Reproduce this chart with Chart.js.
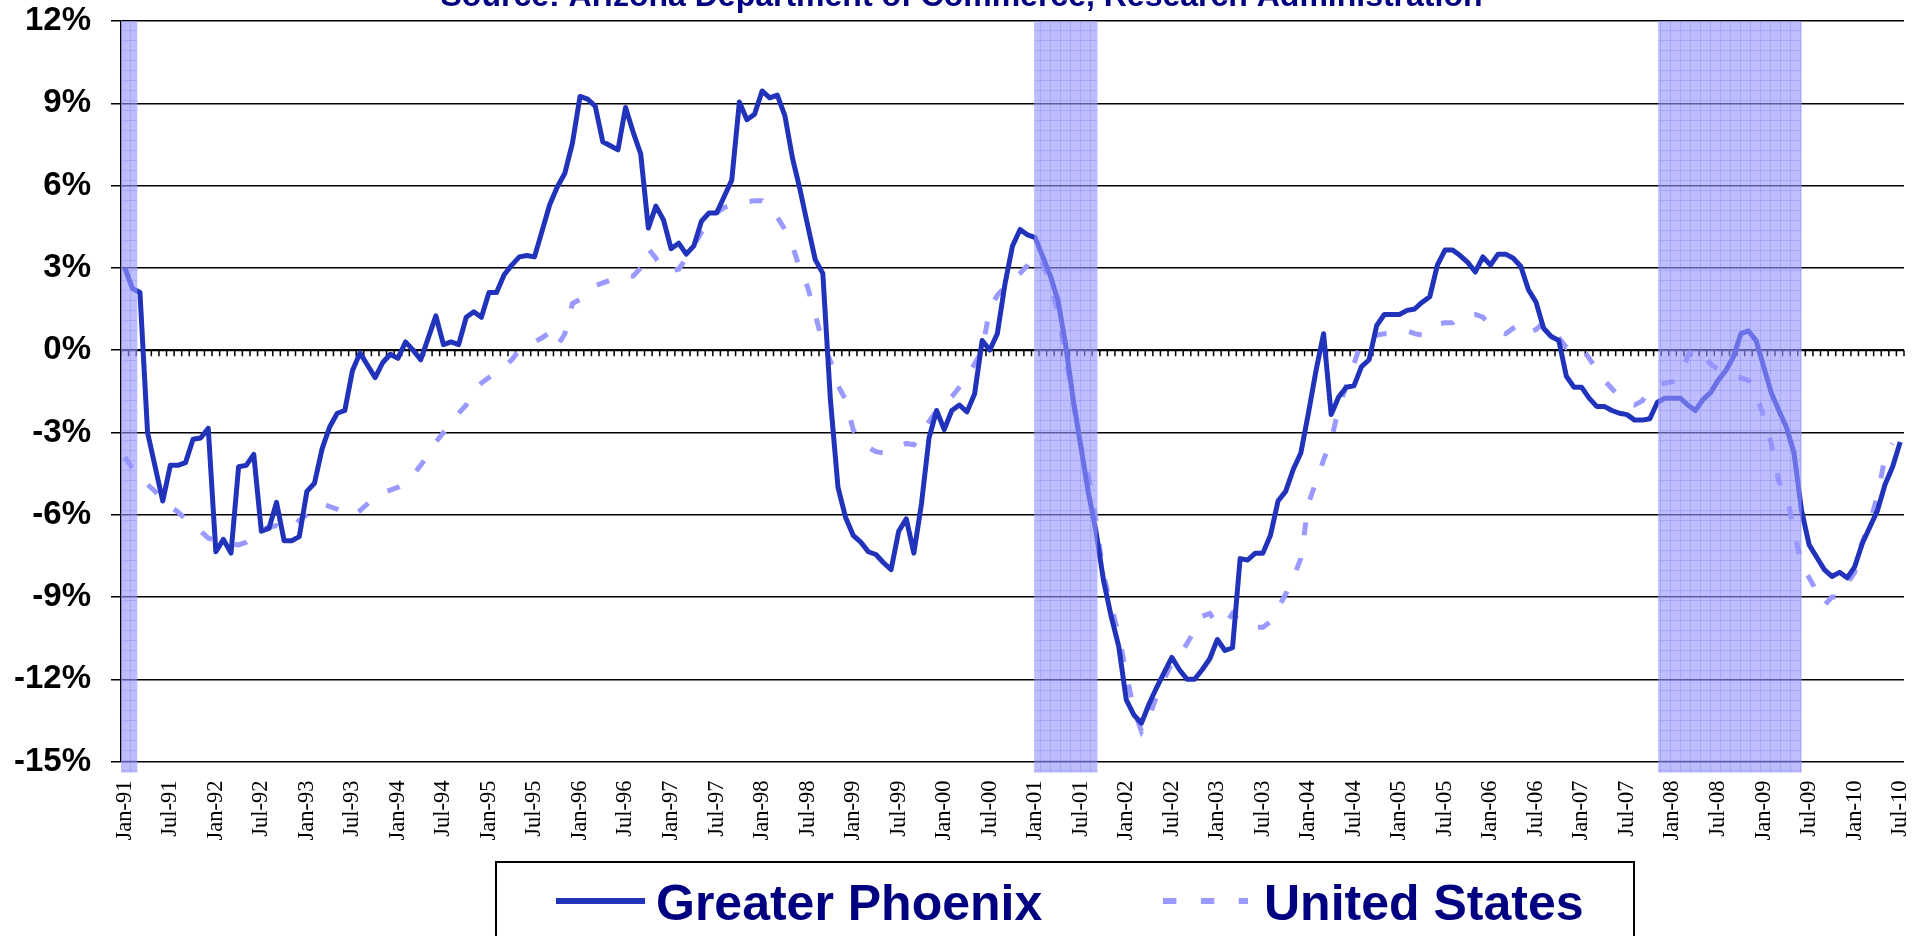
<!DOCTYPE html>
<html>
<head>
<meta charset="utf-8">
<title>Greater Phoenix vs United States</title>
<script src="https://cdn.jsdelivr.net/npm/chart.js"></script>
<style>
  html, body { margin: 0; padding: 0; background: #fff; overflow: hidden; }
  #chart { display: block; }
</style>
</head>
<body>
<canvas id="chart" width="1923" height="936"></canvas>
<script>
// year-over-year change, monthly, Jan-91 .. Jul-10
const phoenix = [
  3.0, 2.25, 2.1, -3.0, -4.25, -5.5, -4.2, -4.2, -4.1, -3.25, -3.2, -2.85,
  -7.35, -6.9, -7.4, -4.25, -4.2, -3.8, -6.6, -6.5, -5.55, -6.95, -6.95, -6.8,
  -5.15, -4.85, -3.6, -2.8, -2.3, -2.2, -0.75, -0.1, -0.55, -1.0, -0.45, -0.15,
  -0.3, 0.3, 0.0, -0.35, 0.45, 1.25, 0.2, 0.3, 0.2, 1.2, 1.4, 1.2,
  2.1, 2.1, 2.75, 3.1, 3.4, 3.45, 3.4, 4.35, 5.3, 5.95, 6.45, 7.55,
  9.25, 9.15, 8.9, 7.6, 7.45, 7.3, 8.85, 7.95, 7.15, 4.45, 5.25, 4.75,
  3.7, 3.9, 3.5, 3.8, 4.7, 5.0, 5.0, 5.6, 6.2, 9.05, 8.4, 8.6,
  9.45, 9.2, 9.3, 8.55, 7.0, 5.85, 4.55, 3.3, 2.8, -1.8, -5.0, -6.1,
  -6.75, -7.0, -7.35, -7.45, -7.75, -8.0, -6.6, -6.15, -7.4, -5.6, -3.2, -2.2,
  -2.9, -2.2, -2.0, -2.25, -1.6, 0.35, 0.0, 0.6, 2.4, 3.8, 4.4, 4.2,
  4.1, 3.4, 2.7, 1.8, 0.2, -1.8, -3.5, -5.2, -6.6, -8.4, -9.7, -10.8,
  -12.75, -13.3, -13.6, -12.9, -12.3, -11.75, -11.2, -11.65, -12.0, -12.0, -11.65, -11.25,
  -10.55, -10.95, -10.85, -7.6, -7.65, -7.4, -7.4, -6.75, -5.5, -5.15, -4.35, -3.75,
  -2.3, -0.75, 0.6, -2.35, -1.7, -1.35, -1.3, -0.6, -0.35, 0.9, 1.3, 1.3,
  1.3, 1.45, 1.5, 1.75, 1.95, 3.1, 3.65, 3.65, 3.45, 3.2, 2.85, 3.4,
  3.1, 3.5, 3.5, 3.35, 3.05, 2.2, 1.75, 0.8, 0.5, 0.35, -0.95, -1.35,
  -1.35, -1.75, -2.05, -2.05, -2.2, -2.3, -2.35, -2.55, -2.55, -2.5, -1.9, -1.75,
  -1.75, -1.75, -2.0, -2.2, -1.8, -1.55, -1.1, -0.75, -0.25, 0.6, 0.7, 0.35,
  -0.6, -1.55, -2.2, -2.8, -3.75, -5.85, -7.1, -7.55, -8.0, -8.25, -8.1, -8.3,
  -7.9, -7.05, -6.45, -5.85, -4.9, -4.25, -3.35
]

const unitedStates = [
  -3.9, -4.3, -4.6, -4.9, -5.15, -5.5, -5.7, -5.9, -6.15, -6.4, -6.6, -6.85,
  -6.95, -7.0, -7.05, -7.1, -7.0, -6.8, -6.55, -6.45, -6.4, -6.55, -6.5, -6.2,
  -6.0, -5.7, -5.6, -5.7, -5.8, -5.95, -6.05, -5.85, -5.6, -5.35, -5.2, -5.1,
  -5.0, -4.85, -4.55, -4.2, -3.8, -3.35, -3.0, -2.6, -2.3, -2.0, -1.5, -1.2,
  -1.0, -0.8, -0.6, -0.35, 0.0, 0.2, 0.3, 0.45, 0.65, 0.15, 0.6, 1.7,
  1.85, 2.1, 2.35, 2.45, 2.55, 2.65, 2.75, 2.7, 3.0, 3.7, 3.35, 2.9,
  2.9, 2.95, 3.35, 3.8, 4.3, 4.75, 5.0, 5.2, 5.3, 5.4, 5.4, 5.45,
  5.45, 5.2, 4.85, 4.4, 3.8, 2.95, 2.3, 1.3, 0.25, -0.4, -1.3, -1.8,
  -2.9, -3.3, -3.55, -3.7, -3.75, -3.6, -3.5, -3.4, -3.45, -3.1, -2.6, -2.2,
  -1.9, -1.7, -1.35, -1.0, -0.5, 0.0, 1.5, 2.0, 2.3, 2.6, 2.8, 3.1,
  3.5, 3.15, 2.45, 1.3, -0.2, -1.9, -3.5, -4.6, -6.2, -8.2, -9.3, -10.4,
  -11.8, -13.1, -13.9, -13.4, -12.6, -12.0, -11.4, -11.1, -10.7, -10.2, -9.7, -9.6,
  -10.0, -10.0, -9.6, -9.9, -10.0, -10.1, -10.1, -9.9, -9.4, -8.9, -8.3, -7.6,
  -5.6, -4.8, -4.0, -3.3, -2.1, -1.3, -0.5, 0.3, 0.45, 0.55, 0.6, 0.6,
  0.65, 0.7, 0.6, 0.55, 0.75, 0.95, 1.0, 1.0, 1.25, 1.3, 1.3, 1.2,
  0.9, 0.7, 0.6, 0.8, 0.95, 0.65, 0.75, 1.0, 0.95, 0.45, 0.1, 0.2,
  0.1, -0.3, -0.7, -1.1, -1.4, -1.7, -1.9, -2.0, -1.85, -1.45, -1.3, -1.2,
  -1.15, -1.0, -0.2, 0.1, -0.2, -0.5, -0.7, -0.85, -0.95, -1.0, -1.1, -1.6,
  -2.4, -3.4, -4.8, -5.2, -6.6, -7.8, -8.3, -8.8, -9.3, -9.0, -9.0, -8.5,
  -8.1, -7.0, -6.3, -5.3, -3.9, -3.4, null
]

const monthNames = ["Jan", "Feb", "Mar", "Apr", "May", "Jun", "Jul", "Aug", "Sep", "Oct", "Nov", "Dec"]
const years = ["91", "92", "93", "94", "95", "96", "97", "98", "99", "00",
               "01", "02", "03", "04", "05", "06", "07", "08", "09", "10"]
const labels = years.flatMap(yr => monthNames.map(m => m + "-" + yr)).slice(0, phoenix.length)

// recessions, in months from Jan-91 (start edge .. end edge)
const recessionFrom = [0, 120.35, 202.6]
const recessionTo = [2.15, 128.7, 221.5]

const yTicks = [-15, -12, -9, -6, -3, 0, 3, 6, 9, 12]

const titleText = "Source: Arizona Department of Commerce, Research Administration"
const navy = "#000080"
const phoenixColor = "#2233BB"
const usColor = "#9999FF"

function bandPattern(ctx) {
  const tile = document.createElement("canvas")
  tile.width = 10
  tile.height = 10
  const p = tile.getContext("2d")
  p.fillStyle = "rgba(150, 150, 255, 0.62)"
  p.fillRect(0, 0, 10, 10)
  p.fillStyle = "rgba(120, 120, 235, 0.3)"
  p.fillRect(0, 0, 10, 1)
  p.fillRect(0, 0, 1, 10)
  return ctx.createPattern(tile, "repeat")
}

// x axis sits on the 0% line, with a tick at every month
const zeroAxis = {
  id: "zeroAxis",
  beforeDatasetsDraw(chart) {
    const { ctx, scales: { x, y } } = chart
    const y0 = y.getPixelForValue(0)
    ctx.save()
    ctx.strokeStyle = "#000"
    ctx.lineWidth = 2
    ctx.beginPath()
    ctx.moveTo(x.left, y0)
    ctx.lineTo(x.right, y0)
    ctx.stroke()
    ctx.lineWidth = 1.5
    ctx.beginPath()
    for (let k = 0; k <= labels.length; k++) {
      const px = x.getPixelForValue(k - 0.5)
      ctx.moveTo(px, y0)
      ctx.lineTo(px, y0 + 6)
    }
    ctx.stroke()
    ctx.restore()
  }
}

const recessionBands = {
  id: "recessionBands",
  afterDatasetsDraw(chart) {
    const { ctx, chartArea, scales: { x } } = chart
    ctx.save()
    ctx.fillStyle = bandPattern(ctx)
    recessionFrom.forEach((from, i) => {
      const x1 = x.getPixelForValue(from - 0.5)
      const x2 = x.getPixelForValue(recessionTo[i] - 0.5)
      ctx.fillRect(x1, chartArea.top, x2 - x1, chartArea.bottom - chartArea.top + 11)
    })
    ctx.restore()
  }
}

const titleAndLegend = {
  id: "titleAndLegend",
  afterDraw(chart) {
    const { ctx } = chart
    ctx.save()
    // title, cut off by the top edge
    ctx.fillStyle = navy
    ctx.font = "bold 32px 'Liberation Sans', Arial, sans-serif"
    ctx.textAlign = "center"
    ctx.textBaseline = "alphabetic"
    ctx.fillText(titleText, chart.width / 2, 6)

    // legend box
    ctx.strokeStyle = "#000"
    ctx.lineWidth = 2
    ctx.strokeRect(496, 862, 1138, 120)

    const ds = chart.data.datasets
    ctx.lineCap = "butt"
    ctx.lineWidth = 6
    ctx.strokeStyle = ds[0].borderColor
    ctx.setLineDash([])
    ctx.beginPath()
    ctx.moveTo(556, 901)
    ctx.lineTo(645, 901)
    ctx.stroke()

    ctx.strokeStyle = ds[1].borderColor
    ctx.setLineDash([13.4, 24.5])
    ctx.beginPath()
    ctx.moveTo(1163, 901)
    ctx.lineTo(1248, 901)
    ctx.stroke()
    ctx.setLineDash([])

    ctx.fillStyle = navy
    ctx.font = "bold 50px 'Liberation Sans', Arial, sans-serif"
    ctx.textAlign = "left"
    ctx.fillText(ds[0].label, 656, 920)
    ctx.fillText(ds[1].label, 1264, 920)
    ctx.restore()
  }
}

new Chart(document.getElementById("chart"), {
  type: "line",
  data: {
    labels: labels,
    datasets: [
      {
        label: "Greater Phoenix",
        data: phoenix,
        borderColor: phoenixColor,
        borderWidth: 5,
        borderJoinStyle: "round",
        pointRadius: 0,
        tension: 0,
        fill: false
      },
      {
        label: "United States",
        data: unitedStates,
        borderColor: usColor,
        borderWidth: 5,
        borderDash: [13, 23],
        borderCapStyle: "butt",
        pointRadius: 0,
        tension: 0,
        fill: false
      }
    ]
  },
  options: {
    responsive: false,
    devicePixelRatio: 1,
    animation: false,
    layout: { padding: { top: 21, right: 19, left: 0, bottom: 0 } },
    plugins: {
      legend: { display: false },
      tooltip: { enabled: false }
    },
    scales: {
      x: {
        type: "category",
        offset: true,
        grid: { display: false, drawTicks: false },
        border: { display: false },
        ticks: {
          autoSkip: false,
          maxRotation: 90,
          minRotation: 90,
          padding: 19,
          color: "#000",
          font: { family: "'Liberation Serif', 'Times New Roman', serif", size: 22.5 },
          callback: (value, index) => index % 6 === 0 ? labels[index] : null
        },
        afterFit: (scale) => {
          scale.height = 174.4
          scale.paddingLeft = 0
          scale.paddingRight = 0
        }
      },
      y: {
        min: -15,
        max: 12,
        afterBuildTicks: (scale) => { scale.ticks = yTicks.map(v => ({ value: v })) },
        grid: { color: "#000", lineWidth: 1.5, tickLength: 10 },
        border: { display: true, color: "#000", width: 1.5 },
        ticks: {
          padding: 20,
          color: "#000",
          font: { family: "'Liberation Sans', Arial, sans-serif", size: 33, weight: "bold" },
          callback: (value) => value + "%"
        },
        afterFit: (scale) => {
          scale.width = 121
          scale.paddingTop = 0
          scale.paddingBottom = 0
        }
      }
    }
  },
  plugins: [zeroAxis, recessionBands, titleAndLegend]
})
</script>
</body>
</html>
